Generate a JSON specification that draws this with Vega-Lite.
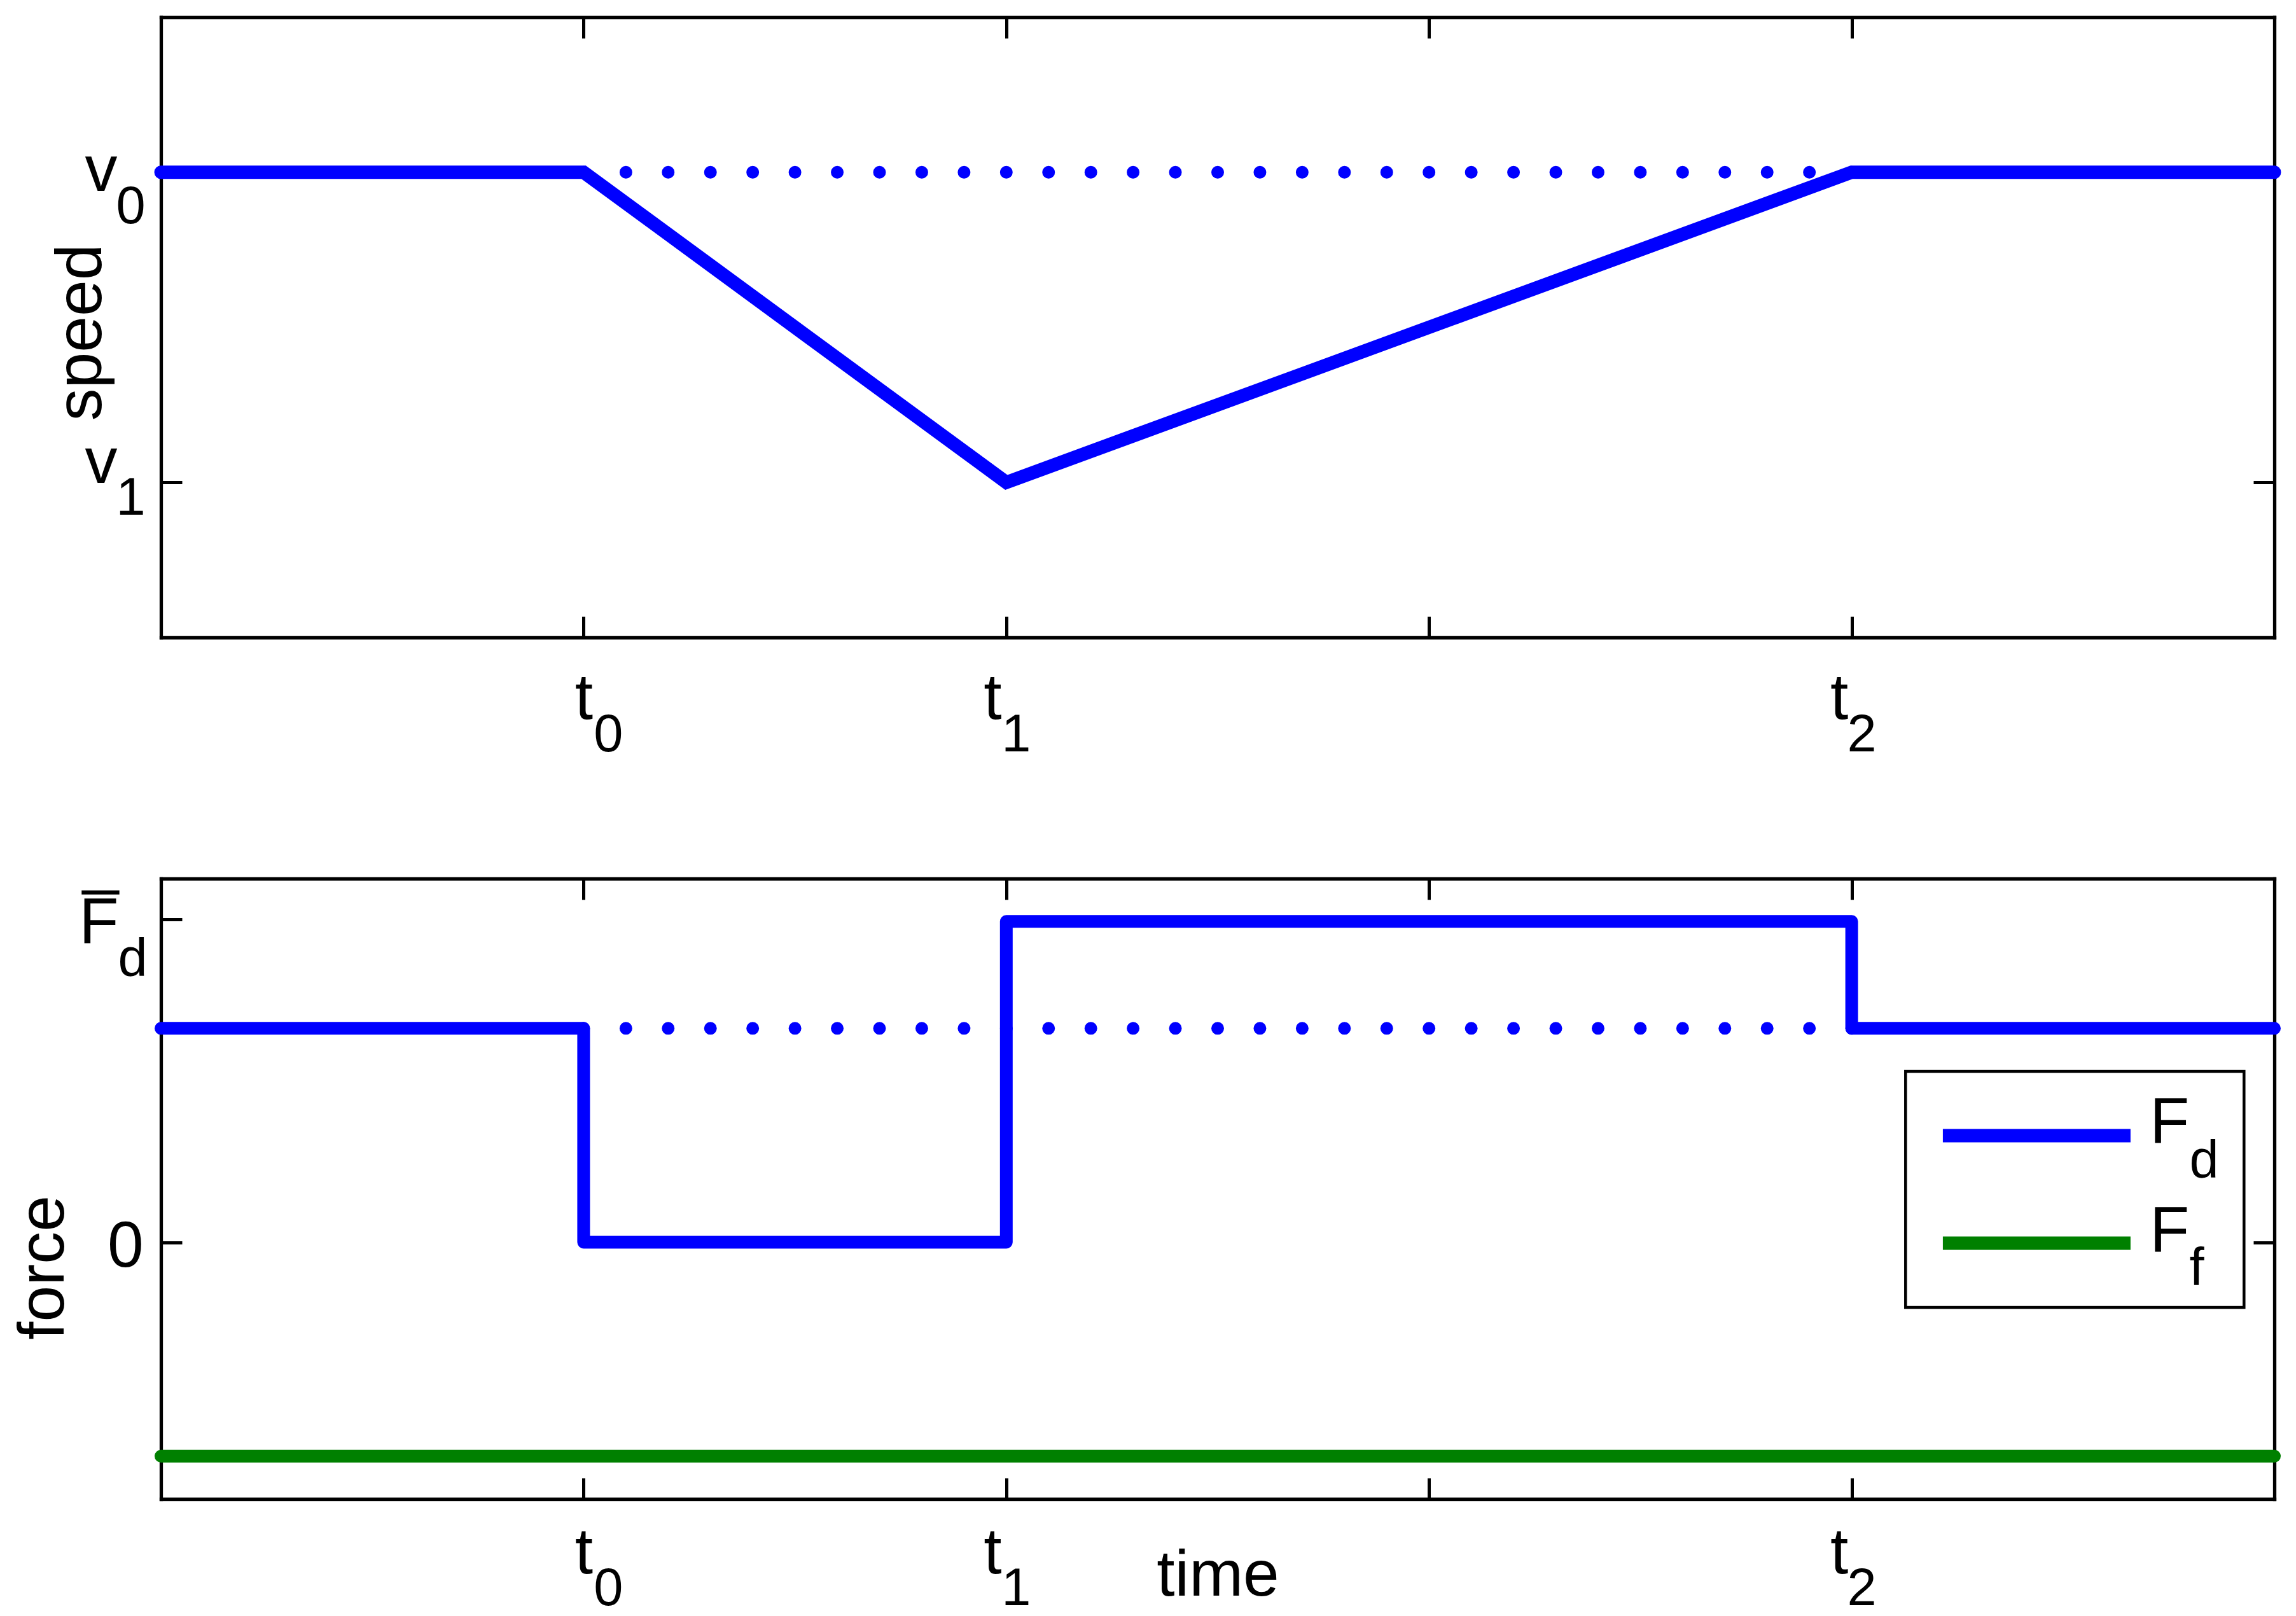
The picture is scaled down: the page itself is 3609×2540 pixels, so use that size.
{
  "$schema": "https://vega.github.io/schema/vega-lite/v6.json",
  "background": "white",
  "padding": {"left": 17, "top": 24, "right": 10, "bottom": 10},
  "bounds": "flush",
  "spacing": 379,
  "config": {
    "font": "Liberation Sans",
    "view": {"stroke": null},
    "axis": {
      "grid": false, "labelColor": "black", "titleColor": "black", "domainColor": "black", "tickColor": "black",
      "labelFont": "Liberation Sans", "titleFont": "Liberation Sans", "labelOverlap": false, "labelFlush": false,
      "labelBound": false, "titleFontWeight": "normal", "domainWidth": 5.3, "tickWidth": 5, "domainCap": "square", "labelLimit": 0
    },
    "legend": {"strokeWidth": 4.5, "labelFont": "Liberation Sans", "labelColor": "black", "labelLimit": 0}
  },
  "datasets": {
    "speed": [{"t": 0, "v": 3}, {"t": 1, "v": 3}, {"t": 2, "v": 1}, {"t": 4, "v": 3}, {"t": 5, "v": 3}],
    "speedRef": [{"t": 1, "v": 3}, {"t": 4, "v": 3}],
    "force": [
      {"series": "Fd", "sub": "d", "t": 0, "F": 1},
      {"series": "Fd", "sub": "d", "t": 1, "F": 0},
      {"series": "Fd", "sub": "d", "t": 2, "F": 1.5},
      {"series": "Fd", "sub": "d", "t": 4, "F": 1},
      {"series": "Fd", "sub": "d", "t": 5, "F": 1},
      {"series": "Ff", "sub": "f", "t": 0, "F": -1},
      {"series": "Ff", "sub": "f", "t": 5, "F": -1}
    ],
    "forceRef": [{"t": 1, "F": 1}, {"t": 4, "F": 1}]
  },
  "vconcat": [
    {
      "width": 3322, "height": 975,
      "resolve": {"axis": {"x": "independent", "y": "independent"}},
      "layer": [
        {
          "data": {"name": "speed"},
          "mark": {"type": "line", "color": "#0000ff", "strokeWidth": 21, "strokeCap": "round", "strokeJoin": "miter"},
          "encoding": {
            "x": {"field": "t", "type": "quantitative", "scale": {"domain": [0, 5], "nice": false, "zero": false},
              "axis": {"orient": "bottom", "values": [1, 2, 3, 4], "domain": true, "ticks": true, "tickSize": -33,
                "domainWidth": 5.3, "tickWidth": 5, "domainColor": "black", "tickColor": "black",
                "labelExpr": "datum.value == 3 ? '' : 't'", "labelFontSize": 102, "labelAlign": "center", "labelBaseline": "alphabetic",
                "labelPadding": 160,
                "labelOffset": {"condition": [{"test": "datum.value == 1", "value": 0}, {"test": "datum.value == 2", "value": -22}], "value": -20},
                "title": null}},
            "y": {"field": "v", "type": "quantitative", "scale": {"domain": [0, 4], "nice": false, "zero": false},
              "axis": {"orient": "left", "values": [1, 3], "domain": true, "ticks": true, "tickSize": -33,
                "domainWidth": 5.3, "tickWidth": 5, "domainColor": "black", "tickColor": "black",
                "labelExpr": "'v'", "labelFontSize": 102, "labelAlign": "right", "labelBaseline": "alphabetic", "labelPadding": 102,
                "labelOffset": {"condition": {"test": "datum.value == 3", "value": 29}, "value": 0},
                "title": "speed", "titleFontSize": 102, "titleAngle": 270, "titleBaseline": "alphabetic", "titleAlign": "center",
                "titleX": -95, "titleY": 495}}
          }
        },
        {
          "data": {"name": "speedRef"},
          "mark": {"type": "line", "color": "#0000ff", "strokeWidth": 20, "strokeCap": "round", "strokeDash": [0, 66.44]},
          "encoding": {
            "x": {"field": "t", "type": "quantitative", "scale": {"domain": [0, 5], "nice": false, "zero": false},
              "axis": {"orient": "top", "values": [1, 2, 3, 4], "labels": false, "ticks": true, "tickSize": -33, "domain": true,
                "domainWidth": 5.3, "tickWidth": 5, "domainColor": "black", "tickColor": "black", "title": null}},
            "y": {"field": "v", "type": "quantitative", "scale": {"domain": [0, 4], "nice": false, "zero": false},
              "axis": {"orient": "right", "values": [1, 3], "labels": false, "ticks": true, "tickSize": -33, "domain": true,
                "domainWidth": 5.3, "tickWidth": 5, "domainColor": "black", "tickColor": "black", "title": null}}
          }
        },
        {
          "data": {"name": "speedRef"},
          "mark": {"type": "point", "opacity": 0},
          "encoding": {
            "x": {"field": "t", "type": "quantitative", "scale": {"domain": [0, 5], "nice": false, "zero": false},
              "axis": {"orient": "bottom", "values": [1, 2, 4], "domain": false, "ticks": false,
                "labelExpr": "datum.value == 1 ? '0' : datum.value == 2 ? '1' : '2'", "labelFontSize": 83, "labelAlign": "left",
                "labelBaseline": "alphabetic", "labelPadding": 178,
                "labelOffset": {"condition": [{"test": "datum.value == 1", "value": 15.4}, {"test": "datum.value == 2", "value": -8}], "value": -7.5},
                "title": null}},
            "y": {"field": "v", "type": "quantitative", "scale": {"domain": [0, 4], "nice": false, "zero": false},
              "axis": {"orient": "left", "values": [1, 3], "domain": false, "ticks": false,
                "labelExpr": "datum.value == 3 ? '0' : '1'", "labelFontSize": 83, "labelAlign": "left", "labelBaseline": "alphabetic",
                "labelPadding": 71,
                "labelOffset": {"condition": {"test": "datum.value == 3", "value": 80}, "value": 50},
                "title": null}}
          }
        }
      ]
    },
    {
      "width": 3322, "height": 975,
      "resolve": {"axis": {"x": "independent", "y": "independent"}},
      "layer": [
        {
          "data": {"name": "force"},
          "mark": {"type": "line", "interpolate": "step-after", "strokeWidth": 20, "strokeCap": "round", "strokeJoin": "round"},
          "encoding": {
            "x": {"field": "t", "type": "quantitative", "scale": {"domain": [0, 5], "nice": false, "zero": false},
              "axis": {"orient": "bottom", "values": [1, 2, 3, 4], "domain": true, "ticks": true, "tickSize": -33,
                "domainWidth": 5.3, "tickWidth": 5, "domainColor": "black", "tickColor": "black",
                "labelExpr": "datum.value == 3 ? '' : 't'", "labelFontSize": 102, "labelAlign": "center", "labelBaseline": "alphabetic",
                "labelPadding": 149,
                "labelOffset": {"condition": [{"test": "datum.value == 1", "value": 0}, {"test": "datum.value == 2", "value": -22}], "value": -20},
                "title": "time", "titleFontSize": 102, "titleBaseline": "alphabetic", "titleY": 151}},
            "y": {"field": "F", "type": "quantitative", "scale": {"domain": [-1.2, 1.7], "nice": false, "zero": false},
              "axis": {"orient": "left", "values": [0, 1.51], "domain": true, "ticks": true, "tickSize": -33,
                "domainWidth": 5.3, "tickWidth": 5, "domainColor": "black", "tickColor": "black",
                "labelExpr": "datum.value == 0 ? '0' : 'F\u0305'", "labelFontSize": 102, "labelAlign": "right", "labelBaseline": "alphabetic",
                "labelPadding": {"condition": {"test": "datum.value == 0", "value": 60.7}, "value": 100},
                "labelOffset": 37.5,
                "title": "force", "titleFontSize": 102, "titleAngle": 270, "titleBaseline": "alphabetic", "titleAlign": "center",
                "titleX": -153.4, "titleY": 611}},
            "color": {"field": "series", "type": "nominal",
              "scale": {"domain": ["Fd", "Ff"], "range": ["#0000ff", "#008000"]},
              "legend": {"orient": "none", "legendX": 2742.3, "legendY": 1657.1,
                "title": " ", "titleOrient": "right", "titleFontSize": 1, "titlePadding": 20.75,
                "symbolType": "stroke", "symbolSize": 87025, "symbolStrokeWidth": 21,
                "clipHeight": 166, "rowPadding": 3, "padding": 17.85, "symbolOffset": 30.25, "labelOffset": 82.1,
                "labelExpr": "datum.label == 'Fd' ? 'd' : 'f'", "labelFontSize": 83, "labelBaseline": "top",
                "strokeColor": "black"}},
            "strokeDash": {"field": "sub", "type": "nominal",
              "scale": {"domain": ["d", "f"], "range": [[1, 0], [1, 0]]},
              "legend": {"orient": "none", "legendX": 2742.3, "legendY": 1690.2, "title": null,
                "symbolType": "stroke", "symbolSize": 87025, "symbolStrokeWidth": 21, "symbolOpacity": 0,
                "clipHeight": 160, "rowPadding": 9, "padding": 0, "labelOffset": 67.7,
                "labelExpr": "'F'", "labelFontSize": 102, "labelBaseline": "alphabetic"}}
          }
        },
        {
          "data": {"name": "forceRef"},
          "mark": {"type": "line", "color": "#0000ff", "strokeWidth": 20, "strokeCap": "round", "strokeDash": [0, 66.44]},
          "encoding": {
            "x": {"field": "t", "type": "quantitative", "scale": {"domain": [0, 5], "nice": false, "zero": false},
              "axis": {"orient": "top", "values": [1, 2, 3, 4], "labels": false, "ticks": true, "tickSize": -33, "domain": true,
                "domainWidth": 5.3, "tickWidth": 5, "domainColor": "black", "tickColor": "black", "title": null}},
            "y": {"field": "F", "type": "quantitative", "scale": {"domain": [-1.2, 1.7], "nice": false, "zero": false},
              "axis": {"orient": "right", "values": [0], "labels": false, "ticks": true, "tickSize": -33, "domain": true,
                "domainWidth": 5.3, "tickWidth": 5, "domainColor": "black", "tickColor": "black", "title": null}}
          }
        },
        {
          "data": {"name": "forceRef"},
          "mark": {"type": "point", "opacity": 0},
          "encoding": {
            "x": {"field": "t", "type": "quantitative", "scale": {"domain": [0, 5], "nice": false, "zero": false},
              "axis": {"orient": "bottom", "values": [1, 2, 4], "domain": false, "ticks": false,
                "labelExpr": "datum.value == 1 ? '0' : datum.value == 2 ? '1' : '2'", "labelFontSize": 83, "labelAlign": "left",
                "labelBaseline": "alphabetic", "labelPadding": 166,
                "labelOffset": {"condition": [{"test": "datum.value == 1", "value": 15.4}, {"test": "datum.value == 2", "value": -8}], "value": -7.5},
                "title": null}},
            "y": {"field": "F", "type": "quantitative", "scale": {"domain": [-1.2, 1.7], "nice": false, "zero": false},
              "axis": {"orient": "left", "values": [1.51], "domain": false, "ticks": false,
                "labelExpr": "'d'", "labelFontSize": 83, "labelAlign": "left", "labelBaseline": "alphabetic",
                "labelPadding": 68, "labelOffset": 88.6, "title": null}}
          }
        }
      ]
    }
  ]
}
